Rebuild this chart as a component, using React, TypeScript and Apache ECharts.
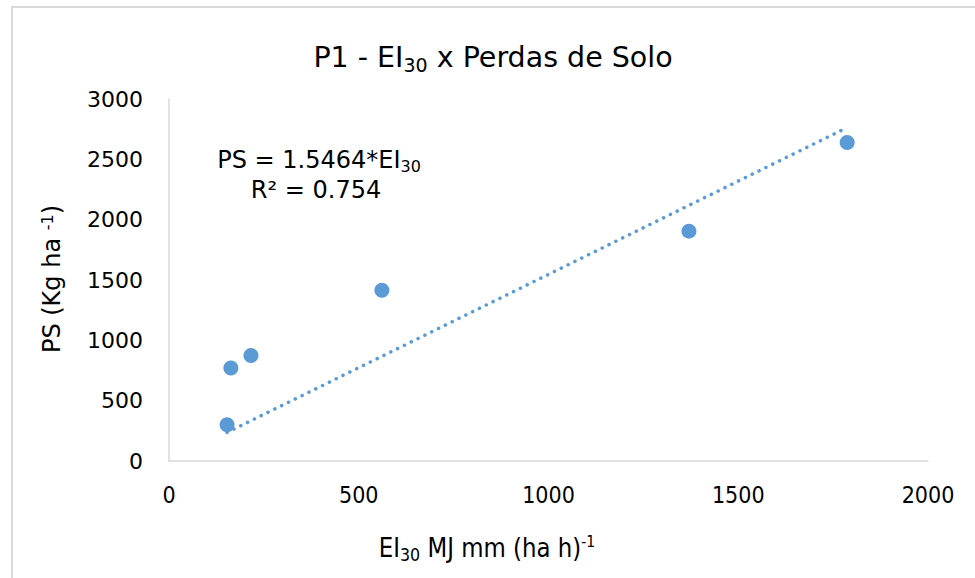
import React, { useEffect, useRef } from "react";
import * as echarts from "echarts";

const eiValues = [153, 163, 216, 561, 1370, 1787];
const psValues = [300, 770, 875, 1415, 1905, 2640];
const slope = 1.5464;
const xTicks = [0, 500, 1000, 1500, 2000];
const yTicks = [0, 500, 1000, 1500, 2000, 2500, 3000];

const FONT = "'DejaVu Sans', Verdana, sans-serif";
const BLUE = "#5b9bd5";

export default function App() {
  const ref = useRef<HTMLDivElement>(null);
  useEffect(() => {
    if (!ref.current) return;
    const chart = echarts.init(ref.current, undefined, { renderer: "svg" });
    const pts = eiValues.map((x, i) => [x, psValues[i]]);
    const xMin = Math.min(...eiValues);
    const xMax = Math.max(...eiValues);
    const trend = [
      [xMin, slope * xMin],
      [xMax, slope * xMax],
    ];
    chart.setOption({
      animation: false,
      backgroundColor: "#ffffff",
      textStyle: { fontFamily: FONT },
      title: {
        text: "P1 - EI{sub|30} x Perdas de Solo",
        left: 488,
        textAlign: "center",
        top: 36,
        textStyle: {
          fontFamily: FONT,
          fontSize: 28.5,
          fontWeight: "normal",
          color: "#000",
          rich: {
            sub: { fontFamily: FONT, fontSize: 19, verticalAlign: "bottom", padding: [14, 0, 0, 0], color: "#000" },
          },
        },
      },
      grid: { left: 169, right: 47, top: 99, bottom: 117 },
      xAxis: {
        type: "value",
        min: 0,
        max: 2000,
        interval: 500,
        splitLine: { show: false },
        axisTick: { show: false },
        axisLine: { lineStyle: { color: "#d9d9d9", width: 1.5 } },
        axisLabel: {
          margin: 22,
          color: "#000",
          fontSize: 23,
          fontFamily: "'DejaVu Sans Condensed', 'DejaVu Sans', sans-serif",
          formatter: (v: number) => (xTicks.includes(v) ? String(v) : ""),
        },
      },
      yAxis: {
        type: "value",
        min: 0,
        max: 3000,
        interval: 500,
        splitLine: { show: false },
        axisTick: { show: false },
        axisLine: { show: true, lineStyle: { color: "#d9d9d9", width: 1.5 } },
        axisLabel: {
          margin: 26,
          color: "#000",
          fontSize: 22,
          fontFamily: FONT,
          formatter: (v: number) => (yTicks.includes(v) ? String(v) : ""),
        },
      },
      graphic: [
        {
          type: "rect",
          shape: { x: 12, y: 7, width: 1000, height: 600 },
          style: { fill: "none", stroke: "#d9d9d9", lineWidth: 2 },
          silent: true,
        },
        {
          type: "text",
          x: 52,
          y: 279,
          rotation: Math.PI / 2,
          style: {
            text: "PS (Kg ha {sup|-1})",
            fontFamily: FONT,
            fontSize: 24,
            fill: "#000",
            align: "center",
            verticalAlign: "middle",
            rich: {
              sup: { fontFamily: FONT, fontSize: 16, verticalAlign: "top", padding: [0, 0, 9, 0], fill: "#000" },
            },
          },
        },
        {
          type: "text",
          x: 487,
          y: 548,
          scaleX: 0.88,
          style: {
            text: "EI{sub|30} MJ mm (ha h){sup|-1}",
            fontFamily: FONT,
            fontSize: 26,
            fill: "#000",
            align: "center",
            verticalAlign: "middle",
            rich: {
              sub: { fontFamily: FONT, fontSize: 18, padding: [14, 0, 0, 0], fill: "#000" },
              sup: { fontFamily: FONT, fontSize: 16, padding: [0, 0, 12, 0], fill: "#000" },
            },
          },
        },
        {
          type: "text",
          x: 319,
          y: 160,
          style: {
            text: "PS = 1.5464*EI{sub|30}",
            fontFamily: FONT,
            fontSize: 24,
            fill: "#000",
            align: "center",
            verticalAlign: "middle",
            rich: {
              sub: { fontFamily: FONT, fontSize: 16, padding: [12, 0, 0, 0], fill: "#000" },
            },
          },
        },
        {
          type: "text",
          x: 316,
          y: 190,
          style: {
            text: "R² = 0.754",
            fontFamily: FONT,
            fontSize: 24,
            fill: "#000",
            align: "center",
            verticalAlign: "middle",
          },
        },
      ],
      series: [
        {
          type: "line",
          data: trend,
          symbol: "none",
          lineStyle: { color: BLUE, width: 3.5, type: [0.1, 7.5], cap: "round" },
          z: 1,
        },
        {
          type: "scatter",
          data: pts,
          symbolSize: 15,
          itemStyle: { color: BLUE, opacity: 1 },
          z: 2,
        },
      ],
    });
    return () => chart.dispose();
  }, []);
  return (
    <div
      ref={ref}
      style={{ position: "fixed", left: 0, top: 0, width: 975, height: 578 }}
    />
  );
}
